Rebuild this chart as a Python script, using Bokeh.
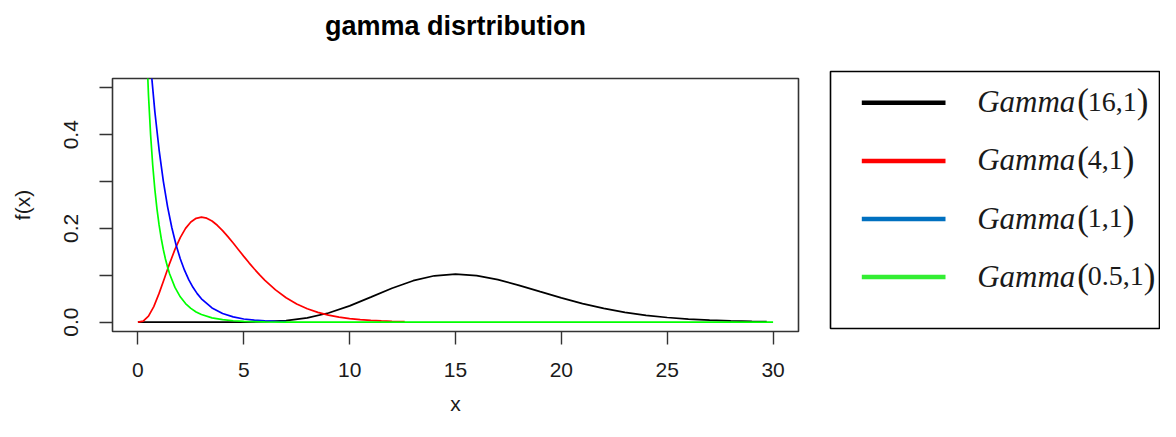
from bokeh.plotting import figure
from bokeh.layouts import row, column
from bokeh.models import Range1d, FixedTicker, PrintfTickFormatter
from bokeh.core.properties import value
from bokeh.embed import file_html
from bokeh.resources import INLINE

# ---- texts / ticks ----
title_text = "gamma disrtribution"
x_label = "x"
y_label = "f(x)"
x_ticks = [0, 5, 10, 15, 20, 25, 30]
y_ticks = [0.0, 0.2, 0.4]
y_minor_ticks = [0.1, 0.3, 0.5]

# ---- series ----
g16_x = [0, 1, 2, 3, 4, 5, 6, 7, 8, 9, 10, 11, 12, 13, 14, 15, 16, 17, 18, 19,
         20, 21, 22, 23, 24, 25, 26, 27, 28, 29, 29.7]
g16_y = [0.0, 0.0, 0.0, 0.0000005, 0.000015, 0.000157, 0.00089, 0.003311, 0.009026,
         0.019431, 0.034718, 0.053352, 0.072392, 0.088476, 0.098923, 0.102436,
         0.099219, 0.090621, 0.078576, 0.065045, 0.051649, 0.039500, 0.029198,
         0.020924, 0.014575, 0.009891, 0.006553, 0.004246, 0.002695, 0.001679,
         0.001192]

g4_x = [0, 0.25, 0.5, 0.75, 1, 1.25, 1.5, 1.75, 2, 2.25, 2.5, 2.75, 3, 3.25, 3.5,
        3.75, 4, 4.25, 4.5, 4.75, 5, 5.25, 5.5, 5.75, 6, 6.5, 7, 7.5, 8, 8.5,
        9, 9.5, 10, 10.5, 11, 11.5, 12, 12.5, 12.6]
g4_y = [0.0, 0.002028, 0.012636, 0.033213, 0.061313, 0.093263, 0.125511, 0.155222,
        0.180447, 0.200094, 0.213763, 0.221585, 0.224042, 0.221842, 0.215783,
        0.206699, 0.195367, 0.182497, 0.168718, 0.154537, 0.140374, 0.126555,
        0.113323, 0.100845, 0.089235, 0.068813, 0.052129,
        0.038889, 0.028626, 0.020826, 0.014994, 0.010696, 0.007567, 0.005313,
        0.003705, 0.002568, 0.001770, 0.001213, 0.001124]

g1_x = [0, 0.2, 0.4, 0.6, 0.8, 1.0, 1.2, 1.4, 1.6, 1.8, 2.0, 2.2, 2.4, 2.6, 2.8,
        3.0, 3.5, 4.0, 4.5, 5.0, 5.5, 6.0, 6.5, 7.0]
g1_y = [1.0, 0.818731, 0.670320, 0.548812, 0.449329, 0.367879, 0.301194, 0.246597,
        0.201897, 0.165299, 0.135335, 0.110803, 0.090718, 0.074274, 0.060810,
        0.049787, 0.030197, 0.018316, 0.011109, 0.006738, 0.004087, 0.002479,
        0.001503, 0.000912]

g05_x = [0.3, 0.4, 0.5, 0.6, 0.7, 0.8, 0.9, 1.0, 1.1, 1.2, 1.3, 1.4, 1.5, 1.75,
         2.0, 2.25, 2.5, 2.75, 3.0, 3.5, 4.0, 4.5, 5.0, 6.0, 7.0, 8.0, 10.0, 15.0,
         20.0, 25.0, 30.0]
g05_y = [0.763090, 0.597967, 0.483941, 0.399736, 0.334865, 0.283431, 0.241790,
         0.207554, 0.179062, 0.155125, 0.134856, 0.117584, 0.102787, 0.074113,
         0.053991, 0.039643, 0.029290, 0.021750, 0.016217, 0.009107, 0.005167,
         0.002955, 0.001700, 0.000571, 0.000194, 0.000067, 0.000008, 0.0, 0.0,
         0.0, 0.0]

series_colors = ["#000000", "#FF0000", "#0000FF", "#00FF00"]

legend_name = "Gamma"
legend_labels = ["16,1", "4,1", "1,1", "0.5,1"]
legend_colors = ["#000000", "#FF0000", "#0070C0", "#33EE33"]

SANS = "Liberation Sans"
SERIF = "Liberation Serif"
INK = "#1a1a1a"
BOX = "#333333"

TOTAL_W = 1160
TITLE_H = 50
FW, FH = 686, 253
LEFT = 112

# ---- title strip ----
tf = figure(frame_width=FW, frame_height=TITLE_H,
            min_border_left=LEFT, min_border_right=TOTAL_W - LEFT - FW,
            min_border_top=0, min_border_bottom=0,
            x_range=Range1d(0, FW), y_range=Range1d(0, TITLE_H),
            x_axis_type=None, y_axis_type=None,
            output_backend="svg", toolbar_location=None,
            background_fill_color="white", border_fill_color="white")
tf.outline_line_color = None
tf.xgrid.visible = False
tf.ygrid.visible = False
tf.text(x=[FW / 2], y=[TITLE_H - 25], text=[title_text],
        text_font=value(SANS), text_font_style="bold", text_font_size="27px",
        text_align="center", text_baseline="middle", text_color="#000000")

# ---- main plot ----
p = figure(frame_width=FW, frame_height=FH,
           min_border_left=LEFT, min_border_right=22,
           min_border_top=78 - TITLE_H, min_border_bottom=90,
           x_range=Range1d(-1.2, 31.2), y_range=Range1d(-0.02, 0.52),
           output_backend="svg", toolbar_location=None,
           background_fill_color="white", border_fill_color="white")

p.outline_line_color = BOX
p.outline_line_width = 1.6
p.outline_line_alpha = 1.0
p.xgrid.visible = False
p.ygrid.visible = False

xa = p.xaxis[0]
xa.ticker = FixedTicker(ticks=x_ticks)
xa.axis_line_color = None
xa.major_tick_line_color = BOX
xa.major_tick_line_width = 1.4
xa.major_tick_in = 0
xa.major_tick_out = 13
xa.minor_tick_line_color = None
xa.major_label_text_font = SANS
xa.major_label_text_font_size = "21px"
xa.major_label_text_color = INK
xa.major_label_standoff = 18
xa.axis_label = x_label
xa.axis_label_text_font = SANS
xa.axis_label_text_font_size = "21px"
xa.axis_label_text_font_style = "normal"
xa.axis_label_text_color = INK
xa.axis_label_standoff = 12

ya = p.yaxis[0]
ya.ticker = FixedTicker(ticks=y_ticks, minor_ticks=y_minor_ticks)
ya.formatter = PrintfTickFormatter(format="%.1f")
ya.axis_line_color = None
ya.major_tick_line_color = BOX
ya.major_tick_line_width = 1.4
ya.major_tick_in = 0
ya.major_tick_out = 13
ya.minor_tick_line_color = BOX
ya.minor_tick_line_width = 1.4
ya.minor_tick_in = 0
ya.minor_tick_out = 13
ya.major_label_orientation = "vertical"
ya.major_label_text_font = SANS
ya.major_label_text_font_size = "21px"
ya.major_label_text_color = INK
ya.major_label_standoff = 21
ya.axis_label = y_label
ya.axis_label_text_font = SANS
ya.axis_label_text_font_size = "21px"
ya.axis_label_text_font_style = "normal"
ya.axis_label_text_color = INK
ya.axis_label_standoff = 28

for xs, ys, c in zip([g16_x, g4_x, g1_x, g05_x], [g16_y, g4_y, g1_y, g05_y], series_colors):
    p.line(xs, ys, line_color=c, line_width=1.7)

# ---- legend panel ----
LW, LH = 329, 257
lg = figure(frame_width=LW, frame_height=LH,
            min_border_left=10, min_border_right=1,
            min_border_top=71 - TITLE_H, min_border_bottom=93,
            x_range=Range1d(0, LW), y_range=Range1d(0, LH),
            x_axis_type=None, y_axis_type=None,
            output_backend="svg", toolbar_location=None,
            background_fill_color="white", border_fill_color="white")
lg.outline_line_color = "#000000"
lg.outline_line_width = 1.6
lg.outline_line_alpha = 1.0
lg.xgrid.visible = False
lg.ygrid.visible = False

n = len(legend_labels)
first_y, step = 225.7, 58.1
row_y = [first_y - i * step for i in range(n)]
lg.segment(x0=[31.3] * n, x1=[115.0] * n, y0=row_y, y1=row_y,
           line_color=legend_colors, line_width=4.5, line_cap="butt")

text_y = [y + 1 for y in row_y]
NAME_X = 146.7
OPEN_X = 246.7
ARG_PX = 28
ARG_X = OPEN_X + 10.5
# advance widths (em) of the serif digits / punctuation, for placing ")"
em_w = {c: 0.5 for c in "0123456789"}
em_w.update({",": 0.25, ".": 0.25})
close_x = [ARG_X + sum(em_w[c] for c in s) * ARG_PX for s in legend_labels]

lg.text(x=[NAME_X] * n, y=text_y, text=[legend_name] * n,
        text_font=value(SERIF), text_font_style="italic", text_font_size="31px",
        text_baseline="middle", text_align="left", text_color=INK)
lg.text(x=[OPEN_X] * n, y=text_y, text=["("] * n,
        text_font=value(SERIF), text_font_size="35px",
        text_baseline="middle", text_align="left", text_color=INK)
lg.text(x=[ARG_X] * n, y=text_y, text=legend_labels,
        text_font=value(SERIF), text_font_size=f"{ARG_PX}px",
        text_baseline="middle", text_align="left", text_color=INK)
lg.text(x=close_x, y=text_y, text=[")"] * n,
        text_font=value(SERIF), text_font_size="35px",
        text_baseline="middle", text_align="left", text_color=INK)

layout = column(tf, row(p, column(lg, spacing=0), spacing=0), spacing=0)
open("out.html", "w").write(file_html(layout, INLINE))
